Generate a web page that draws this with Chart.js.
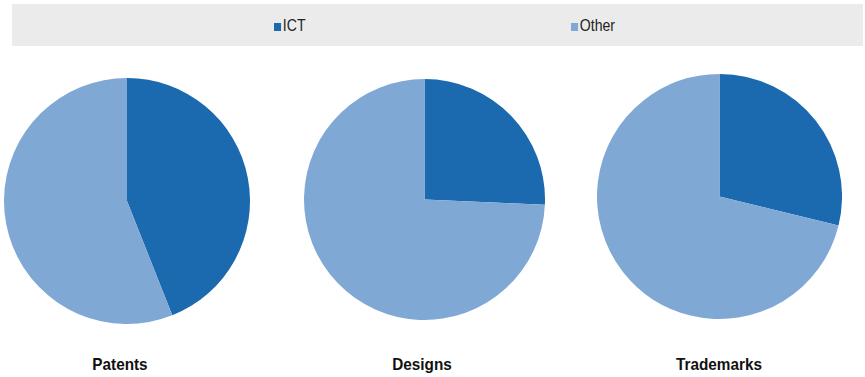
<!DOCTYPE html>
<html>
<head>
<meta charset="utf-8">
<script src="https://cdn.jsdelivr.net/npm/chart.js@4/dist/chart.umd.min.js"></script>
<style>
  html, body { margin: 0; padding: 0; background: #ffffff; }
  body { width: 865px; height: 377px; position: relative; overflow: hidden;
         font-family: "Liberation Sans Narrow", "Arial Narrow", "Liberation Sans", sans-serif; }
  #legend { position: absolute; left: 12px; top: 4px; width: 851px; height: 42px; background: #ebebeb; }
  .item { position: absolute; top: 13px; font-size: 16px; color: #222; line-height: 17px;
          transform: scaleX(0.88); transform-origin: left center; white-space: nowrap; }
  .item i { display: inline-block; width: 8px; height: 8px; margin-right: 2px; vertical-align: 0px; }
  canvas { position: absolute; }
  .title { position: absolute; top: 355px; width: 200px; text-align: center;
           font-weight: bold; font-size: 17px; color: #111;
           transform: scaleX(0.9); transform-origin: center center; }
</style>
</head>
<body>
<div id="legend"></div>
<canvas id="c0"></canvas>
<canvas id="c1"></canvas>
<canvas id="c2"></canvas>
<div class="title" id="t0"></div>
<div class="title" id="t1"></div>
<div class="title" id="t2"></div>
<script>
// Share of ICT among filings, by type of right (%)
const series = ["ICT", "Other"];
const colors = ["#1b69ae", "#80a8d5"];
const charts = ["Patents", "Designs", "Trademarks"];
const ictShare = [44, 25.7, 28.8];
const otherShare = [56, 74.3, 71.2];

// canvas placement for each pie: [left, top, size]
const boxes = [[4, 78, 246], [304, 79, 241], [597, 74, 245]];
const titleCenters = [120, 422, 719];

// legend strip
const legend = document.getElementById("legend");
const legendX = [262, 559];
series.forEach((name, i) => {
  const d = document.createElement("div");
  d.className = "item";
  d.style.left = legendX[i] + "px";
  d.innerHTML = '<i style="background:' + colors[i] + '"></i>' + name;
  legend.appendChild(d);
});

charts.forEach((name, i) => {
  const cv = document.getElementById("c" + i);
  const [l, t, s] = boxes[i];
  cv.style.left = l + "px";
  cv.style.top = t + "px";
  cv.width = s; cv.height = s;
  new Chart(cv, {
    type: "pie",
    data: {
      labels: series,
      datasets: [{
        data: [ictShare[i], otherShare[i]],
        backgroundColor: colors,
        borderWidth: 0
      }]
    },
    options: {
      responsive: false,
      animation: false,
      layout: { padding: 0 },
      plugins: { legend: { display: false }, tooltip: { enabled: false } }
    }
  });
  const tt = document.getElementById("t" + i);
  tt.textContent = name;
  tt.style.left = (titleCenters[i] - 100) + "px";
});
</script>
</body>
</html>
